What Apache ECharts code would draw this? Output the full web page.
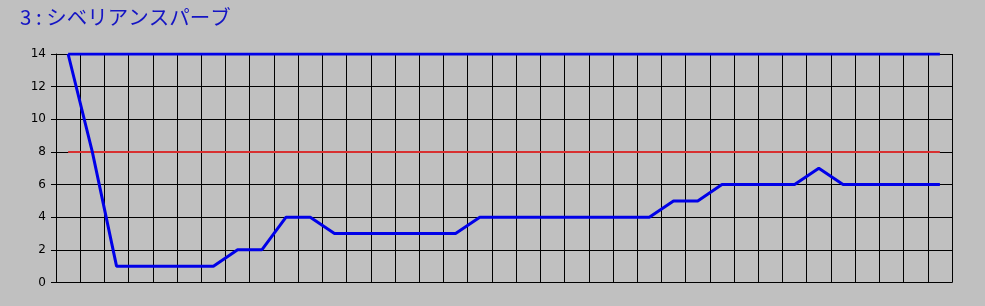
<!DOCTYPE html>
<html><head><meta charset="utf-8">
<script src="https://cdn.jsdelivr.net/npm/echarts@6/dist/echarts.min.js"></script>
<style>html,body{margin:0;padding:0;background:#c0c0c0}#c{width:985px;height:306px}</style>
</head><body><div id="c"></div>
<script>
const titleText = "3 : シベリアンスパーブ";
const categories = Array.from({length:37}, (_, i) => String(i + 1));
const values = [14,8,1,1,1,1,1,2,2,4,4,3,3,3,3,3,3,4,4,4,4,4,4,4,4,5,5,6,6,6,6,7,6,6,6,6,6];
const upperLimit = categories.map(() => 14);
const refLine = categories.map(() => 8);
const yTicks = [0,2,4,6,8,10,12,14];

const chart = echarts.init(document.getElementById('c'), null, {renderer:'canvas'});
chart.setOption({
  backgroundColor:'#c0c0c0',
  animation:false,
  title:{text:titleText, left:15, top:2, textStyle:{color:'#1414c4', fontSize:20.5, fontWeight:'normal', fontFamily:'Noto Sans CJK JP'}},
  grid:{left:56, right:33, top:54, bottom:23.5},
  xAxis:{type:'category', data:categories, boundaryGap:true,
    axisLine:{show:true, lineStyle:{color:'#000', width:1}},
    axisTick:{show:false}, axisLabel:{show:false},
    splitLine:{show:true, lineStyle:{color:'#000', width:1}}},
  yAxis:{type:'value', min:0, max:14, interval:2,
    axisLine:{show:true, lineStyle:{color:'#000', width:1}},
    axisTick:{show:true, length:5, lineStyle:{color:'#000'}},
    axisLabel:{color:'#000', fontSize:12, margin:10, fontFamily:'DejaVu Sans',
      formatter:v => yTicks.includes(v) ? String(v) : ''},
    splitLine:{show:true, lineStyle:{color:'#000', width:1}}},
  series:[
    {type:'line', data:refLine, symbol:'none', lineStyle:{color:'#d83030', width:2}, z:3},
    {type:'line', data:upperLimit, symbol:'none', lineStyle:{color:'#0000e8', width:3}, z:4},
    {type:'line', data:values, symbol:'none', lineStyle:{color:'#0000e8', width:3}, z:5}
  ]
});
</script></body></html>
